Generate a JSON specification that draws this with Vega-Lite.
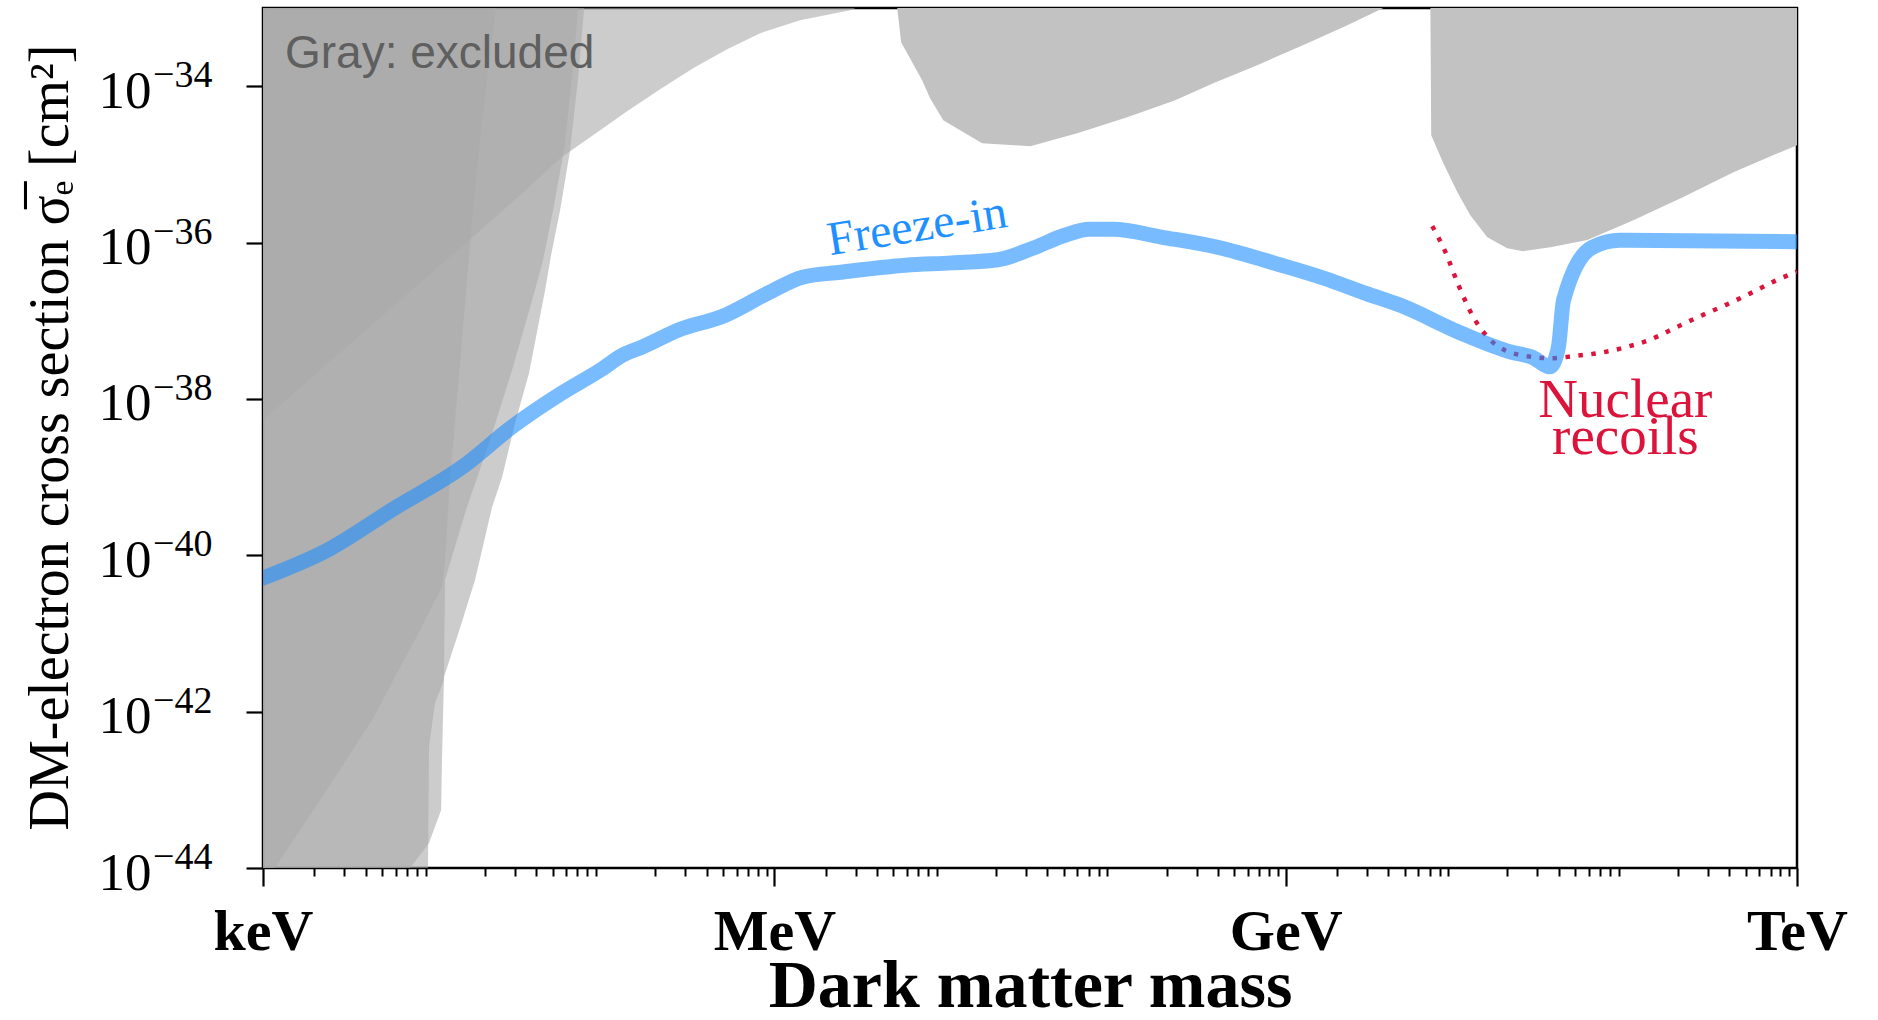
{
  "$schema": "https://vega.github.io/schema/vega-lite/v6.json",
  "width": 1534,
  "height": 860,
  "autosize": {"type": "none"},
  "padding": {"left": 263, "top": 8, "right": 81, "bottom": 152},
  "background": "white",
  "config": {
    "view": {"stroke": "black", "strokeWidth": 2.5},
    "font": "Liberation Serif"
  },
  "datasets": {
    "regionA": [
      {"mass_GeV": 1e-6, "sigma_cm2": 5.37e-39},
      {"mass_GeV": 2.472e-6, "sigma_cm2": 3.041e-38},
      {"mass_GeV": 6.368e-6, "sigma_cm2": 1.832e-37},
      {"mass_GeV": 1.432e-5, "sigma_cm2": 8.472e-37},
      {"mass_GeV": 3.221e-5, "sigma_cm2": 4.036e-36},
      {"mass_GeV": 5.534e-5, "sigma_cm2": 1.199e-35},
      {"mass_GeV": 9.506e-5, "sigma_cm2": 2.735e-35},
      {"mass_GeV": 1.368e-4, "sigma_cm2": 4.786e-35},
      {"mass_GeV": 2.138e-4, "sigma_cm2": 9.16e-35},
      {"mass_GeV": 3.334e-4, "sigma_cm2": 1.698e-34},
      {"mass_GeV": 5.284e-4, "sigma_cm2": 2.972e-34},
      {"mass_GeV": 8.26e-4, "sigma_cm2": 4.764e-34},
      {"mass_GeV": 1.416e-3, "sigma_cm2": 6.982e-34},
      {"mass_GeV": 2.786e-3, "sigma_cm2": 9.376e-34},
      {"mass_GeV": 3.0e-3, "sigma_cm2": 1e-33}
    ],
    "regionC": [
      {"mass_GeV": 1.176e-6, "sigma_cm2": 1e-44},
      {"mass_GeV": 2.163e-6, "sigma_cm2": 7.413e-44},
      {"mass_GeV": 4.365e-6, "sigma_cm2": 7.816e-43},
      {"mass_GeV": 8.337e-6, "sigma_cm2": 1.104e-41},
      {"mass_GeV": 1.122e-5, "sigma_cm2": 3.917e-41},
      {"mass_GeV": 1.169e-5, "sigma_cm2": 8.69e-41},
      {"mass_GeV": 1.25e-5, "sigma_cm2": 9.16e-40},
      {"mass_GeV": 1.34e-5, "sigma_cm2": 5.358e-39},
      {"mass_GeV": 1.472e-5, "sigma_cm2": 5.649e-38},
      {"mass_GeV": 1.574e-5, "sigma_cm2": 3.304e-37},
      {"mass_GeV": 1.706e-5, "sigma_cm2": 2.594e-36},
      {"mass_GeV": 1.875e-5, "sigma_cm2": 2.037e-35},
      {"mass_GeV": 2.089e-5, "sigma_cm2": 1.603e-34},
      {"mass_GeV": 2.328e-5, "sigma_cm2": 1e-33}
    ],
    "regionP": [
      {"mass_GeV": 9.29e-6, "sigma_cm2": 1e-44},
      {"mass_GeV": 9.42e-6, "sigma_cm2": 3.524e-43},
      {"mass_GeV": 1.021e-5, "sigma_cm2": 1.288e-42},
      {"mass_GeV": 1.153e-5, "sigma_cm2": 2.535e-42},
      {"mass_GeV": 1.169e-5, "sigma_cm2": 4.819e-41},
      {"mass_GeV": 1.552e-5, "sigma_cm2": 3.784e-40},
      {"mass_GeV": 2.148e-5, "sigma_cm2": 2.972e-39},
      {"mass_GeV": 2.891e-5, "sigma_cm2": 2.333e-38},
      {"mass_GeV": 3.793e-5, "sigma_cm2": 1.832e-37},
      {"mass_GeV": 4.395e-5, "sigma_cm2": 5.957e-37},
      {"mass_GeV": 5.035e-5, "sigma_cm2": 2.594e-36},
      {"mass_GeV": 5.834e-5, "sigma_cm2": 1.521e-35},
      {"mass_GeV": 6.501e-5, "sigma_cm2": 1.303e-34},
      {"mass_GeV": 7.063e-5, "sigma_cm2": 1e-33}
    ],
    "regionQ": [
      {"mass_GeV": 7.295e-6, "sigma_cm2": 1e-44},
      {"mass_GeV": 9.42e-6, "sigma_cm2": 2.089e-44},
      {"mass_GeV": 1.109e-5, "sigma_cm2": 5.521e-44},
      {"mass_GeV": 1.122e-5, "sigma_cm2": 2.404e-43},
      {"mass_GeV": 1.153e-5, "sigma_cm2": 2.767e-42},
      {"mass_GeV": 1.432e-5, "sigma_cm2": 1.172e-41},
      {"mass_GeV": 1.754e-5, "sigma_cm2": 4.819e-41},
      {"mass_GeV": 2.208e-5, "sigma_cm2": 4.13e-40},
      {"mass_GeV": 2.529e-5, "sigma_cm2": 1e-39},
      {"mass_GeV": 3.013e-5, "sigma_cm2": 4.909e-39},
      {"mass_GeV": 3.639e-5, "sigma_cm2": 2.138e-38},
      {"mass_GeV": 4.519e-5, "sigma_cm2": 2.46e-37},
      {"mass_GeV": 4.898e-5, "sigma_cm2": 6.902e-37},
      {"mass_GeV": 5.534e-5, "sigma_cm2": 2.594e-36},
      {"mass_GeV": 6.339e-5, "sigma_cm2": 1.521e-35},
      {"mass_GeV": 7.063e-5, "sigma_cm2": 1.303e-34},
      {"mass_GeV": 7.656e-5, "sigma_cm2": 1e-33}
    ],
    "regionGeV": [
      {"mass_GeV": 5.26e-3, "sigma_cm2": 1e-33},
      {"mass_GeV": 5.546e-3, "sigma_cm2": 3.656e-34},
      {"mass_GeV": 7.362e-3, "sigma_cm2": 1.194e-34},
      {"mass_GeV": 8.2e-3, "sigma_cm2": 7.031e-35},
      {"mass_GeV": 9.795e-3, "sigma_cm2": 3.673e-35},
      {"mass_GeV": 1.656e-2, "sigma_cm2": 1.866e-35},
      {"mass_GeV": 3.17e-2, "sigma_cm2": 1.71e-35},
      {"mass_GeV": 5.984e-2, "sigma_cm2": 2.506e-35},
      {"mass_GeV": 0.1175, "sigma_cm2": 4.018e-35},
      {"mass_GeV": 0.2249, "sigma_cm2": 6.622e-35},
      {"mass_GeV": 0.3758, "sigma_cm2": 1.091e-34},
      {"mass_GeV": 0.6808, "sigma_cm2": 1.858e-34},
      {"mass_GeV": 1.34, "sigma_cm2": 3.548e-34},
      {"mass_GeV": 2.301, "sigma_cm2": 6.026e-34},
      {"mass_GeV": 3.741, "sigma_cm2": 1e-33}
    ],
    "regionTeV": [
      {"mass_GeV": 7.063, "sigma_cm2": 1e-33},
      {"mass_GeV": 7.145, "sigma_cm2": 2.36e-35},
      {"mass_GeV": 8.414, "sigma_cm2": 1.035e-35},
      {"mass_GeV": 10.16, "sigma_cm2": 4.416e-36},
      {"mass_GeV": 12.11, "sigma_cm2": 2.239e-36},
      {"mass_GeV": 15.24, "sigma_cm2": 1.172e-36},
      {"mass_GeV": 19.95, "sigma_cm2": 8.472e-37},
      {"mass_GeV": 24.77, "sigma_cm2": 7.762e-37},
      {"mass_GeV": 35.73, "sigma_cm2": 8.73e-37},
      {"mass_GeV": 58.88, "sigma_cm2": 1.074e-36},
      {"mass_GeV": 109.6, "sigma_cm2": 1.932e-36},
      {"mass_GeV": 215.3, "sigma_cm2": 3.811e-36},
      {"mass_GeV": 423.6, "sigma_cm2": 7.943e-36},
      {"mass_GeV": 1000, "sigma_cm2": 1.762e-35}
    ],
    "nuclear": [
      {"mass_GeV": 7.244, "sigma_cm2": 1.622e-36},
      {"mass_GeV": 8.65, "sigma_cm2": 7.586e-37},
      {"mass_GeV": 10.3, "sigma_cm2": 2.884e-37},
      {"mass_GeV": 12.45, "sigma_cm2": 1.175e-37},
      {"mass_GeV": 15.45, "sigma_cm2": 6.026e-38},
      {"mass_GeV": 19.45, "sigma_cm2": 4.169e-38},
      {"mass_GeV": 25.47, "sigma_cm2": 3.548e-38},
      {"mass_GeV": 35.73, "sigma_cm2": 3.311e-38},
      {"mass_GeV": 50.12, "sigma_cm2": 3.548e-38},
      {"mass_GeV": 70.15, "sigma_cm2": 3.89e-38},
      {"mass_GeV": 98.4, "sigma_cm2": 4.571e-38},
      {"mass_GeV": 138.0, "sigma_cm2": 5.754e-38},
      {"mass_GeV": 193.2, "sigma_cm2": 8.128e-38},
      {"mass_GeV": 271.0, "sigma_cm2": 1.148e-37},
      {"mass_GeV": 380.2, "sigma_cm2": 1.585e-37},
      {"mass_GeV": 532.1, "sigma_cm2": 2.239e-37},
      {"mass_GeV": 746.5, "sigma_cm2": 3.236e-37},
      {"mass_GeV": 1000, "sigma_cm2": 4.266e-37}
    ],
    "freezein": [
      {"mass_GeV": 1e-6, "sigma_cm2": 5.129e-41},
      {"mass_GeV": 2.455e-6, "sigma_cm2": 1.202e-40},
      {"mass_GeV": 5.888e-6, "sigma_cm2": 3.981e-40},
      {"mass_GeV": 1.479e-5, "sigma_cm2": 1.349e-39},
      {"mass_GeV": 2.884e-5, "sigma_cm2": 4.365e-39},
      {"mass_GeV": 5.623e-5, "sigma_cm2": 1.175e-38},
      {"mass_GeV": 9.55e-5, "sigma_cm2": 2.344e-38},
      {"mass_GeV": 1.288e-4, "sigma_cm2": 3.631e-38},
      {"mass_GeV": 1.66e-4, "sigma_cm2": 4.571e-38},
      {"mass_GeV": 2.884e-4, "sigma_cm2": 7.943e-38},
      {"mass_GeV": 4.898e-4, "sigma_cm2": 1.122e-37},
      {"mass_GeV": 9.12e-4, "sigma_cm2": 2.239e-37},
      {"mass_GeV": 1.479e-3, "sigma_cm2": 3.631e-37},
      {"mass_GeV": 2.455e-3, "sigma_cm2": 4.169e-37},
      {"mass_GeV": 5.888e-3, "sigma_cm2": 5.129e-37},
      {"mass_GeV": 1.096e-2, "sigma_cm2": 5.495e-37},
      {"mass_GeV": 2.042e-2, "sigma_cm2": 6.026e-37},
      {"mass_GeV": 3.311e-2, "sigma_cm2": 8.511e-37},
      {"mass_GeV": 5.012e-2, "sigma_cm2": 1.23e-36},
      {"mass_GeV": 7.079e-2, "sigma_cm2": 1.479e-36},
      {"mass_GeV": 9.772e-2, "sigma_cm2": 1.479e-36},
      {"mass_GeV": 0.1862, "sigma_cm2": 1.175e-36},
      {"mass_GeV": 0.3981, "sigma_cm2": 8.71e-37},
      {"mass_GeV": 0.912, "sigma_cm2": 5.248e-37},
      {"mass_GeV": 1.698, "sigma_cm2": 3.467e-37},
      {"mass_GeV": 2.951, "sigma_cm2": 2.239e-37},
      {"mass_GeV": 4.677, "sigma_cm2": 1.585e-37},
      {"mass_GeV": 10.72, "sigma_cm2": 6.918e-38},
      {"mass_GeV": 20.89, "sigma_cm2": 3.981e-38},
      {"mass_GeV": 28.18, "sigma_cm2": 3.388e-38},
      {"mass_GeV": 35.48, "sigma_cm2": 2.57e-38},
      {"mass_GeV": 39.81, "sigma_cm2": 4.571e-38},
      {"mass_GeV": 42.66, "sigma_cm2": 1.82e-37},
      {"mass_GeV": 63.1, "sigma_cm2": 8.71e-37},
      {"mass_GeV": 91.2, "sigma_cm2": 1.072e-36},
      {"mass_GeV": 1000, "sigma_cm2": 1.023e-36}
    ],
    "exponents": [
      {"sigma_cm2": 1e-44, "exponent": "−44"},
      {"sigma_cm2": 1e-42, "exponent": "−42"},
      {"sigma_cm2": 1e-40, "exponent": "−40"},
      {"sigma_cm2": 1e-38, "exponent": "−38"},
      {"sigma_cm2": 1e-36, "exponent": "−36"},
      {"sigma_cm2": 1e-34, "exponent": "−34"}
    ],
    "noteGray": [{"mass_GeV": 1.346e-6, "sigma_cm2": 1.698e-34, "label": "Gray: excluded"}],
    "noteFreeze": [{"mass_GeV": 2.123e-3, "sigma_cm2": 6.902e-37, "label": "Freeze-in"}],
    "noteNuclear": [{"mass_GeV": 98.4, "sigma_cm2": 5.848e-39, "label": ["Nuclear", "recoils"]}]
  },
  "resolve": {"axis": {"x": "independent"}},
  "layer": [
    {
      "data": {"name": "regionA"},
      "mark": {"type": "area", "color": "#aaaaaa", "opacity": 0.6, "clip": true},
      "encoding": {
        "x": {
          "field": "mass_GeV", "type": "quantitative",
          "scale": {"type": "log", "domain": [1e-6, 1000], "nice": false},
          "axis": {
            "orient": "bottom",
            "values": [1e-6, 0.001, 1, 1000],
            "labelExpr": "round(log(datum.value)/LN10) == -6 ? 'keV' : round(log(datum.value)/LN10) == -3 ? 'MeV' : round(log(datum.value)/LN10) == 0 ? 'GeV' : 'TeV'",
            "title": "Dark matter mass",
            "titleFont": "Liberation Serif", "titleFontWeight": "bold", "titleFontSize": 68, "titleColor": "black",
            "titleY": 138, "titleBaseline": "alphabetic",
            "labelFont": "Liberation Serif", "labelFontWeight": "bold", "labelFontSize": 58, "labelColor": "black",
            "labelBaseline": "alphabetic", "labelPadding": 63, "labelFlush": false, "labelOverlap": false, "labelBound": false,
            "tickSize": 18, "tickWidth": 2.2, "tickColor": "black", "domain": false, "grid": false
          }
        },
        "y": {
          "field": "sigma_cm2", "type": "quantitative",
          "scale": {"type": "log", "domain": [1e-44, 1e-33], "nice": false},
          "axis": {
            "orient": "left",
            "values": [1e-44, 1e-42, 1e-40, 1e-38, 1e-36, 1e-34],
            "labelExpr": "'10'",
            "title": "DM-electron cross section  σ̅ₑ  [cm²]",
            "titleFont": "Liberation Serif", "titleFontWeight": "normal", "titleFontSize": 56, "titleColor": "black",
            "titleAngle": -90, "titleX": -196, "titleY": 429, "titleAlign": "center", "titleBaseline": "alphabetic",
            "labelFont": "Liberation Serif", "labelFontSize": 53, "labelColor": "black",
            "labelPadding": 95, "labelBaseline": "alphabetic", "labelOffset": 21,
            "labelFlush": false, "labelOverlap": false, "labelBound": false,
            "tickSize": 17, "tickWidth": 2.2, "tickColor": "black", "domain": false, "grid": false
          }
        },
        "y2": {"datum": 1e-33}
      }
    },
    {
      "data": {"name": "regionC"},
      "mark": {"type": "area", "orient": "horizontal", "color": "#aaaaaa", "opacity": 0.6, "clip": true},
      "encoding": {
        "y": {"field": "sigma_cm2", "type": "quantitative", "scale": {"type": "log", "domain": [1e-44, 1e-33], "nice": false}},
        "x": {
          "field": "mass_GeV", "type": "quantitative",
          "scale": {"type": "log", "domain": [1e-6, 1000], "nice": false},
          "axis": {
            "orient": "bottom",
            "values": [2e-6, 3e-6, 4e-6, 5e-6, 6e-6, 7e-6, 8e-6, 9e-6,
                       2e-5, 3e-5, 4e-5, 5e-5, 6e-5, 7e-5, 8e-5, 9e-5,
                       2e-4, 3e-4, 4e-4, 5e-4, 6e-4, 7e-4, 8e-4, 9e-4,
                       0.002, 0.003, 0.004, 0.005, 0.006, 0.007, 0.008, 0.009,
                       0.02, 0.03, 0.04, 0.05, 0.06, 0.07, 0.08, 0.09,
                       0.2, 0.3, 0.4, 0.5, 0.6, 0.7, 0.8, 0.9,
                       2, 3, 4, 5, 6, 7, 8, 9,
                       20, 30, 40, 50, 60, 70, 80, 90,
                       200, 300, 400, 500, 600, 700, 800, 900],
            "labels": false, "title": null, "domain": false, "grid": false,
            "tickSize": 8, "tickWidth": 2, "tickColor": "black"
          }
        },
        "x2": {"datum": 1e-6}
      }
    },
    {
      "data": {"name": "regionP"},
      "mark": {"type": "area", "orient": "horizontal", "color": "#aaaaaa", "opacity": 0.6, "clip": true},
      "encoding": {
        "y": {"field": "sigma_cm2", "type": "quantitative", "scale": {"type": "log", "domain": [1e-44, 1e-33], "nice": false}},
        "x": {"field": "mass_GeV", "type": "quantitative", "scale": {"type": "log", "domain": [1e-6, 1000], "nice": false}, "axis": null},
        "x2": {"datum": 1e-6}
      }
    },
    {
      "data": {"name": "regionQ"},
      "mark": {"type": "area", "orient": "horizontal", "color": "#aaaaaa", "opacity": 0.6, "clip": true},
      "encoding": {
        "y": {"field": "sigma_cm2", "type": "quantitative", "scale": {"type": "log", "domain": [1e-44, 1e-33], "nice": false}},
        "x": {"field": "mass_GeV", "type": "quantitative", "scale": {"type": "log", "domain": [1e-6, 1000], "nice": false}, "axis": null},
        "x2": {"datum": 1e-6}
      }
    },
    {
      "data": {"name": "regionGeV"},
      "mark": {"type": "area", "color": "#c2c2c2", "opacity": 1, "clip": true},
      "encoding": {
        "x": {"field": "mass_GeV", "type": "quantitative", "scale": {"type": "log", "domain": [1e-6, 1000], "nice": false}, "axis": null},
        "y": {"field": "sigma_cm2", "type": "quantitative", "scale": {"type": "log", "domain": [1e-44, 1e-33], "nice": false}},
        "y2": {"datum": 1e-33}
      }
    },
    {
      "data": {"name": "regionTeV"},
      "mark": {"type": "area", "color": "#c2c2c2", "opacity": 1, "clip": true},
      "encoding": {
        "x": {"field": "mass_GeV", "type": "quantitative", "scale": {"type": "log", "domain": [1e-6, 1000], "nice": false}, "axis": null},
        "y": {"field": "sigma_cm2", "type": "quantitative", "scale": {"type": "log", "domain": [1e-44, 1e-33], "nice": false}},
        "y2": {"datum": 1e-33}
      }
    },
    {
      "data": {"name": "nuclear"},
      "mark": {"type": "line", "color": "#dc143c", "strokeWidth": 4.5, "strokeDash": [4.5, 8.5], "strokeCap": "butt", "interpolate": "monotone", "clip": true},
      "encoding": {
        "x": {"field": "mass_GeV", "type": "quantitative", "scale": {"type": "log", "domain": [1e-6, 1000], "nice": false}, "axis": null},
        "y": {"field": "sigma_cm2", "type": "quantitative", "scale": {"type": "log", "domain": [1e-44, 1e-33], "nice": false}}
      }
    },
    {
      "data": {"name": "freezein"},
      "mark": {"type": "line", "color": "#1e90ff", "strokeWidth": 15, "opacity": 0.6, "strokeCap": "round", "strokeJoin": "round", "interpolate": "monotone", "clip": true},
      "encoding": {
        "x": {"field": "mass_GeV", "type": "quantitative", "scale": {"type": "log", "domain": [1e-6, 1000], "nice": false}, "axis": null},
        "y": {"field": "sigma_cm2", "type": "quantitative", "scale": {"type": "log", "domain": [1e-44, 1e-33], "nice": false}}
      }
    },
    {
      "data": {"name": "exponents"},
      "mark": {"type": "text", "font": "Liberation Serif", "fontSize": 38, "color": "black", "align": "left", "baseline": "alphabetic", "dx": -110, "dy": 1},
      "encoding": {
        "x": {"datum": 1e-6, "type": "quantitative", "scale": {"type": "log", "domain": [1e-6, 1000], "nice": false}, "axis": null},
        "y": {"field": "sigma_cm2", "type": "quantitative", "scale": {"type": "log", "domain": [1e-44, 1e-33], "nice": false}},
        "text": {"field": "exponent"}
      }
    },
    {
      "data": {"name": "noteGray"},
      "mark": {"type": "text", "font": "Liberation Sans", "fontSize": 46, "color": "#5f5f5f", "align": "left", "baseline": "alphabetic"},
      "encoding": {
        "x": {"field": "mass_GeV", "type": "quantitative", "scale": {"type": "log", "domain": [1e-6, 1000], "nice": false}, "axis": null},
        "y": {"field": "sigma_cm2", "type": "quantitative", "scale": {"type": "log", "domain": [1e-44, 1e-33], "nice": false}},
        "text": {"field": "label"}
      }
    },
    {
      "data": {"name": "noteFreeze"},
      "mark": {"type": "text", "font": "Liberation Serif", "fontSize": 48, "color": "#1e90ff", "align": "left", "baseline": "alphabetic", "angle": -9},
      "encoding": {
        "x": {"field": "mass_GeV", "type": "quantitative", "scale": {"type": "log", "domain": [1e-6, 1000], "nice": false}, "axis": null},
        "y": {"field": "sigma_cm2", "type": "quantitative", "scale": {"type": "log", "domain": [1e-44, 1e-33], "nice": false}},
        "text": {"field": "label"}
      }
    },
    {
      "data": {"name": "noteNuclear"},
      "mark": {"type": "text", "font": "Liberation Serif", "fontSize": 55, "color": "#dc143c", "align": "center", "baseline": "alphabetic", "lineHeight": 37},
      "encoding": {
        "x": {"field": "mass_GeV", "type": "quantitative", "scale": {"type": "log", "domain": [1e-6, 1000], "nice": false}, "axis": null},
        "y": {"field": "sigma_cm2", "type": "quantitative", "scale": {"type": "log", "domain": [1e-44, 1e-33], "nice": false}},
        "text": {"field": "label"}
      }
    }
  ]
}
